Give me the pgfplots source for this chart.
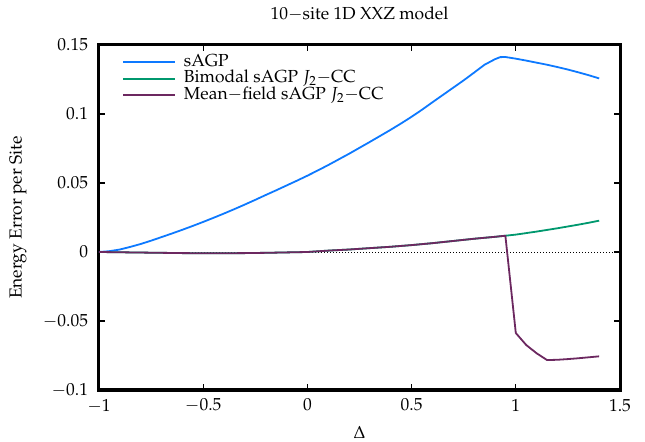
\documentclass[border=0pt]{standalone}
\usepackage[T1]{fontenc}
\usepackage{mathpazo}
\usepackage{pgfplots}
\pgfplotsset{compat=1.18}

\definecolor{lineA}{RGB}{13,121,255}
\definecolor{lineB}{RGB}{0,152,110}
\definecolor{lineC}{RGB}{108,40,96}

% sAGP energy error per site
\pgfplotstableread{
x y
-1.00 0.0000
-0.95 0.0006
-0.90 0.0018
-0.85 0.0037
-0.80 0.0058
-0.75 0.0082
-0.70 0.0108
-0.65 0.0134
-0.60 0.0161
-0.55 0.0189
-0.50 0.0218
-0.45 0.0248
-0.40 0.0279
-0.35 0.0311
-0.30 0.0344
-0.25 0.0378
-0.20 0.0413
-0.15 0.0447
-0.10 0.0482
-0.05 0.0517
0.00 0.0553
0.05 0.0591
0.10 0.0630
0.15 0.0671
0.20 0.0712
0.25 0.0755
0.30 0.0798
0.35 0.0842
0.40 0.0886
0.45 0.0932
0.50 0.0980
0.55 0.1031
0.60 0.1085
0.65 0.1138
0.70 0.1191
0.75 0.1244
0.80 0.1300
0.85 0.1357
0.90 0.1397
0.925 0.1412
0.95 0.1413
1.00 0.1401
1.05 0.1387
1.10 0.1372
1.15 0.1357
1.20 0.1340
1.25 0.1322
1.30 0.1302
1.35 0.1281
1.40 0.1258
}\sagp

% bimodal sAGP J2-CC
\pgfplotstableread{
x y
-1.00 0.0000
-0.90 -0.0002
-0.80 -0.0004
-0.70 -0.0006
-0.60 -0.0008
-0.50 -0.0009
-0.40 -0.0009
-0.30 -0.0008
-0.20 -0.0006
-0.10 -0.0003
0.00 0.0000
0.10 0.0010
0.20 0.0018
0.30 0.0028
0.40 0.0038
0.50 0.0050
0.60 0.0064
0.70 0.0080
0.80 0.0096
0.90 0.0110
0.95 0.0118
1.00 0.0126
1.05 0.0137
1.10 0.0148
1.15 0.0160
1.20 0.0172
1.25 0.0185
1.30 0.0198
1.35 0.0212
1.40 0.0227
}\bimodal

% mean-field sAGP J2-CC
\pgfplotstableread{
x y
-1.00 0.0000
-0.90 -0.0002
-0.80 -0.0004
-0.70 -0.0006
-0.60 -0.0008
-0.50 -0.0009
-0.40 -0.0009
-0.30 -0.0008
-0.20 -0.0006
-0.10 -0.0003
0.00 0.0000
0.10 0.0010
0.20 0.0018
0.30 0.0028
0.40 0.0038
0.50 0.0050
0.60 0.0064
0.70 0.0080
0.80 0.0096
0.90 0.0110
0.95 0.0118
1.00 -0.0587
1.05 -0.0674
1.10 -0.0734
1.15 -0.0783
1.20 -0.0781
1.25 -0.0776
1.30 -0.0770
1.35 -0.0763
1.40 -0.0756
}\meanfield

\begin{document}
\fontsize{17.5}{21}\selectfont
\begin{tikzpicture}
\begin{axis}[
  name=ax,
  scale only axis,
  width=521bp, height=345bp,
  xmin=-1, xmax=1.5,
  ymin=-0.1, ymax=0.15,
  xtick={-1,-0.5,0,0.5,1,1.5},
  ytick={-0.1,-0.05,0,0.05,0.1,0.15},
  scaled y ticks=false,
  yticklabel style={/pgf/number format/fixed, /pgf/number format/precision=2, xshift=-5bp},
  xticklabel style={yshift=-3bp},
  tick align=inside,
  major tick length=6bp,
  tick style={black, line width=1.2bp},
  axis line style={black, line width=3bp},
  % dotted zero line across the plot
  extra y ticks={0},
  extra y tick labels={},
  extra y tick style={grid=major, major tick length=0bp,
    major grid style={black, line width=0.8bp, dash pattern=on 1bp off 2bp}},
  title={10$-$site 1D XXZ model},
  title style={at={(axis description cs:0.5,1)}, anchor=center, yshift=25bp},
  xlabel={$\Delta$},
  xlabel style={at={(axis description cs:0.5,0)}, anchor=center, yshift=-42bp},
  ylabel={Energy Error per Site},
  ylabel style={at={(axis description cs:-0.1555,0.5)}, anchor=center},
  legend cell align=left,
  legend style={draw=none, fill=none, at={(axis description cs:0,1)}, anchor=north west,
    xshift=20bp, yshift=-7bp, column sep=8bp, row sep=1.2bp,
    nodes={fill=none, inner sep=0bp, text height=12bp, text depth=3.5bp}},
  legend image code/.code={%
    \draw[line width=1.8bp, #1] plot coordinates {(0bp,0bp) (26bp,0bp) (52bp,0bp)};},
  every axis plot/.append style={line width=1.8bp, line join=round},
]
\addplot[draw=lineA] table[x=x, y=y] {\sagp};
\addlegendentry{sAGP}
\addplot[draw=lineB] table[x=x, y=y] {\bimodal};
\addlegendentry{Bimodal sAGP $J_2{-}$CC}
\addplot[draw=lineC] table[x=x, y=y] {\meanfield};
\addlegendentry{Mean$-$field sAGP $J_2{-}$CC}
\end{axis}
\pgfresetboundingbox
\path[use as bounding box] ([shift={(-99bp,-52bp)}]ax.south west) rectangle ([shift={(25bp,45bp)}]ax.north east);
\end{tikzpicture}
\end{document}
